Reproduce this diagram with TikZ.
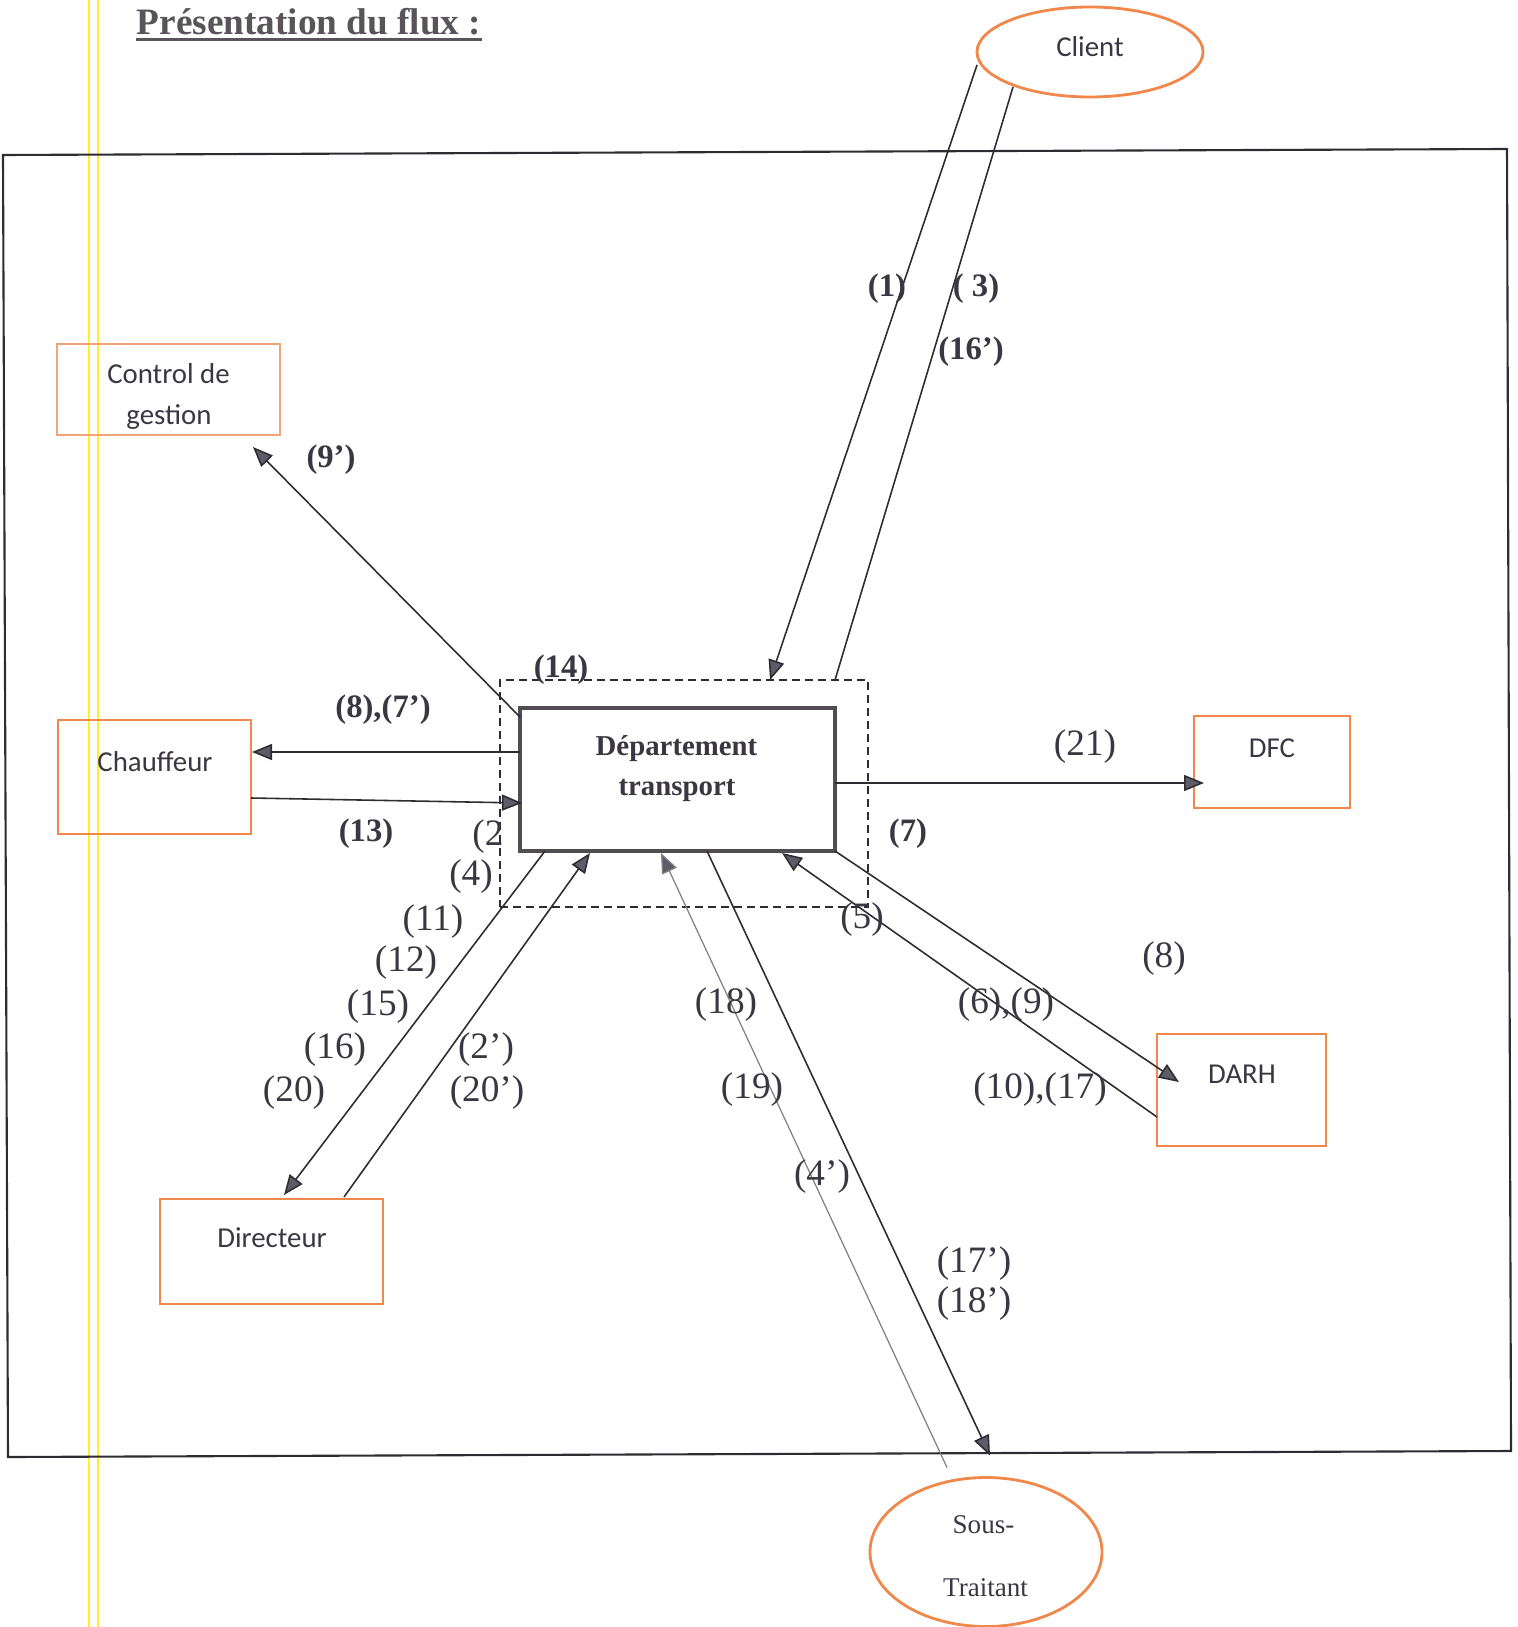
\documentclass[tikz,border=0pt]{standalone}
\usepackage{fontspec}
\setmainfont{Liberation Serif}
\newfontfamily\boxfont{Carlito}
\usetikzlibrary{arrows.meta,shapes.geometric}
\definecolor{boxorange}{RGB}{240,135,75}
\definecolor{inkgray}{RGB}{45,44,50}
\definecolor{tipgray}{RGB}{95,92,105}
\definecolor{textgray}{RGB}{58,55,66}
\definecolor{titlegray}{RGB}{88,84,90}
\definecolor{deptgray}{RGB}{80,76,82}
\definecolor{scanyellow}{RGB}{255,238,40}

\begin{document}
\begin{tikzpicture}[x=0.1mm, y=-0.1mm,
	box/.style={draw=boxorange, line width=0.8pt, inner sep=0pt, outer sep=0pt},
	oval/.style={ellipse, draw=boxorange, line width=0.8pt, inner sep=0pt, outer sep=0pt},
	flow/.style={draw=inkgray, line width=0.45pt, -{Triangle[length=2mm,width=1.6mm,fill=tipgray]}},
	link/.style={draw=inkgray, line width=0.45pt},
	blab/.style={font=\fontsize{9.3}{11}\selectfont\bfseries, text=textgray, inner sep=0pt},
	rlab/.style={font=\fontsize{10.6}{12}\selectfont, text=textgray, inner sep=0pt},
	sans/.style={font=\boxfont\fontsize{8.2}{10}\selectfont, text=textgray, inner sep=0pt, anchor=base}]
	\useasboundingbox (0,0) rectangle (1517,1627);
	\draw[scanyellow, line width=0.5pt] (89,0) -- (89,1627);
	\draw[scanyellow, line width=0.5pt] (98,0) -- (98,1627);
	\draw[inkgray, line width=0.6pt] (3,155) -- (1507,149) -- (1511,1451) -- (8,1457) -- cycle;

	\node[anchor=base west, inner sep=0pt, font=\fontsize{10.6}{12}\selectfont\bfseries, text=titlegray] (title) at (136,35) {Présentation du flux :};
	\draw[titlegray, line width=0.9pt] ([yshift=-0.45mm]title.base west) -- ([yshift=-0.45mm]title.base east);

	\node[oval, minimum width=22.6mm, minimum height=9mm] (client) at (1090,52) {};
	\node[oval, minimum width=23.2mm, minimum height=14.9mm] (soustr) at (986,1552) {};
	\node[box, draw=boxorange!75, line width=0.45pt, minimum width=22.3mm, minimum height=9.1mm] (ctrl) at (168.5,389.5) {};
	\node[box, minimum width=19.3mm, minimum height=11.4mm] (chauf) at (154.5,777) {};
	\node[box, minimum width=15.6mm, minimum height=9.2mm] (dfc) at (1272,762) {};
	\node[box, minimum width=16.9mm, minimum height=11.2mm] (darh) at (1241.5,1090) {};
	\node[box, minimum width=22.3mm, minimum height=10.5mm] (dir) at (271.5,1251.5) {};
	\node[draw=inkgray, line width=0.65pt, dash pattern=on 0.8mm off 0.5mm, minimum width=36.8mm, minimum height=22.7mm, inner sep=0pt, outer sep=0pt] (dash) at (684,793.5) {};
	\node[draw=deptgray, line width=1.2pt, minimum width=31.5mm, minimum height=14.3mm, inner sep=0pt, outer sep=0pt] (dept) at (677.5,779.5) {};

	\node[sans] (client-t) at (1090,57) {Client};
	\node[sans] (ctrl-t1) at (168.5,383) {Control de};
	\node[sans] (ctrl-t2) at (169,424) {gestion};
	\node[sans] (chauf-t) at (155,771) {Chauffeur};
	\node[sans] (dfc-t) at (1272,757) {DFC};
	\node[sans] (darh-t) at (1242,1083) {DARH};
	\node[sans] (dir-t) at (272,1247) {Directeur};
	\node[anchor=base, inner sep=0pt, font=\fontsize{8.2}{10}\selectfont\bfseries, text=textgray] (dept-t1) at (676.5,755) {Département};
	\node[anchor=base, inner sep=0pt, font=\fontsize{8.2}{10}\selectfont\bfseries, text=textgray] (dept-t2) at (677,795) {transport};
	\node[anchor=base, inner sep=0pt, font=\fontsize{7.7}{9}\selectfont, text=textgray] (sous-t1) at (983.5,1533) {Sous-};
	\node[anchor=base, inner sep=0pt, font=\fontsize{7.7}{9}\selectfont, text=textgray] (sous-t2) at (985.5,1596) {Traitant};

	\draw[flow] ([yshift=-1.3mm]client.west) -- ([xshift=8.6mm]dash.north);
	\draw[link] ([xshift=15.1mm]dash.north) -- ([xshift=-7.7mm,yshift=1mm]client.south);
	\draw[flow] ([yshift=-0.9mm]dept.north west) -- ([xshift=-2.7mm,yshift=-1.2mm]ctrl.south east);
	\draw[flow] ([yshift=2.75mm]dept.west) -- ([xshift=0.1mm,yshift=2.5mm]chauf.east);
	\draw[flow] ([yshift=-2.1mm]chauf.east) -- ([xshift=0.2mm,yshift=-2.35mm]dept.west);
	\draw[flow] ([yshift=-0.35mm]dept.east) -- ([xshift=1mm,yshift=-2.1mm]dfc.west);
	\draw[flow] (dept.south east) -- ([xshift=2.2mm,yshift=0.8mm]darh.west);
	\draw[flow] ([yshift=-2.7mm]darh.west) -- ([xshift=10.45mm,yshift=-0.2mm]dept.south);
	\draw[flow] ([xshift=2.5mm]dept.south west) -- ([xshift=1.25mm,yshift=0.4mm]dir.north);
	\draw[flow] ([xshift=7.25mm,yshift=0.2mm]dir.north) -- ([xshift=7mm,yshift=-0.2mm]dept.south west);
	\draw[flow, draw=gray, line width=0.35pt] ([xshift=-3.9mm,yshift=1mm]soustr.north) -- ([xshift=-1.65mm,yshift=-0.2mm]dept.south);
	\draw[flow] ([xshift=2.95mm]dept.south) -- ([xshift=0.4mm,yshift=2.2mm]soustr.north);

	\foreach \n/\x/\y/\t in {n14/561/670/(14), n1/887/289/(1), n3/976/289/( 3), n16p/971/352/(16’), n9p/331/460/(9’), n8-7p/383/710/{(8),(7’)}, n13/366/834/(13), n7/908/834/(7)} {
		\node[blab] (\n) at (\x,\y) {\t};
	}
	\foreach \n/\x/\y/\t in {n2/488/837/(2, n4/471/877/(4), n11/433/922/(11), n12/406/963/(12), n15/378/1007/(15), n16/335/1050/(16), n20/294/1093/(20), n2p/486/1050/(2’), n20p/487/1093/(20’), n5/862/920/(5), n18/726/1005/(18), n19/752/1090/(19), n6-9/1006/1005/{(6),(9)}, n10-17/1040/1090/{(10),(17)}, n4p/822/1177/(4’), n17p/974/1264/(17’), n18p/974/1304/(18’), n8/1164/959/(8), n21/1085/747/(21)} {
		\node[rlab] (\n) at (\x,\y) {\t};
	}
\end{tikzpicture}
\end{document}
